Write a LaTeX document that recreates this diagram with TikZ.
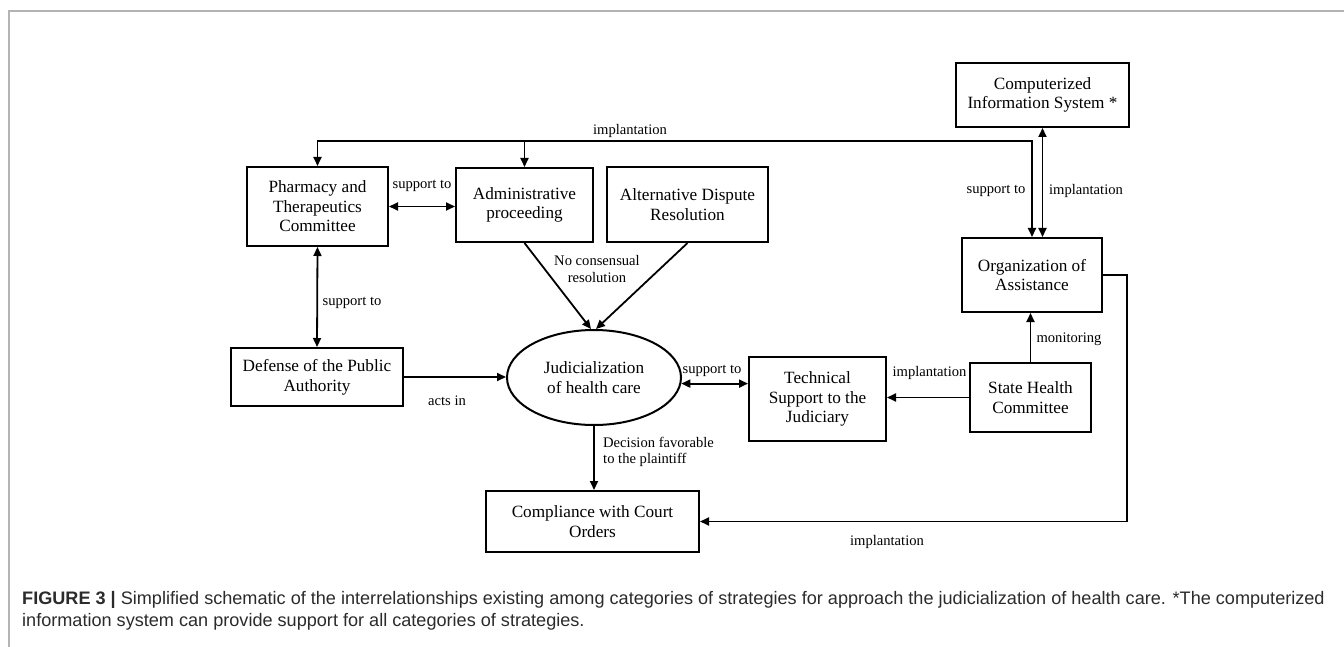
\documentclass[tikz,border=0pt]{standalone}
\usepackage{fontspec}
\setmainfont{Liberation Serif}
\newfontfamily\capfont{Liberation Sans}
\usetikzlibrary{arrows.meta,shapes.geometric}
\definecolor{framegray}{HTML}{B4B4B4}
\definecolor{captext}{HTML}{2B2B2B}
\begin{document}
\begin{tikzpicture}[x=1pt,y=-1pt,
  box/.style={draw, line width=2pt, inner sep=0pt, align=center, font=\fontsize{17.2}{19.6}\selectfont},
  lab/.style={inner sep=0pt, align=center, font=\fontsize{14.6}{16.5}\selectfont},
  arr/.style={line width=1.8pt, -{Triangle[length=9pt,width=8pt]}},
  darr/.style={line width=1.8pt, {Triangle[length=9pt,width=8pt]}-{Triangle[length=9pt,width=8pt]}},
  captxt/.style={inner sep=0pt, anchor=west, text=captext, font=\capfont\fontsize{18.1}{22}\selectfont}]
\useasboundingbox (0,0) rectangle (1344,647);
\draw[framegray, line width=1.4pt] (9,647) -- (9,11) -- (1344,11);

% nodes
\node[box, minimum width=141pt, minimum height=79pt] (pharm) at (317.5,206.5) {Pharmacy and\\Therapeutics\\Committee};
\node[box, minimum width=137pt, minimum height=74pt] (admin) at (524.5,205) {Administrative\\proceeding};
\node[box, minimum width=161pt, minimum height=75pt] (alt) at (687.5,204.5) {Alternative Dispute\\Resolution};
\node[box, minimum width=173pt, minimum height=64pt] (comp) at (1042.5,95) {Computerized\\Information System *};
\node[box, minimum width=140pt, minimum height=74pt] (org) at (1032,275) {Organization of\\Assistance};
\node[box, minimum width=172pt, minimum height=58pt] (def) at (317,377) {Defense of the Public\\Authority};
\node[box, ellipse, minimum width=174pt, minimum height=95pt] (jud) at (594,377.5) {Judicialization\\of health care};
\node[box, minimum width=137pt, minimum height=84pt] (tech) at (817.5,399) {Technical\\Support to the\\Judiciary};
\node[box, minimum width=121pt, minimum height=69pt] (state) at (1030.5,397.5) {State Health\\Committee};
\node[box, minimum width=213pt, minimum height=61pt] (cc) at (592.5,521.5) {Compliance with Court\\Orders};

\coordinate (topline) at (0,141);
\coordinate (rightline) at (1127,0);

% connectors
\draw[darr] (org.north) -- (org.north |- topline) -| (pharm.north);
\draw[arr] (admin.north |- topline) -- (admin.north);
\draw[darr] (comp.south) -- (comp.south |- org.north);
\draw[darr] (pharm.east) -- (pharm.east -| admin.west);
\draw[darr] (pharm.south) -- (def.north);
\draw[arr] (admin.south) -- ([xshift=-3pt]jud.north);
\draw[arr] (alt.south) -- ([xshift=2pt]jud.north);
\draw[arr] (def.east) -- (def.east -| jud.west);
\draw[darr] (jud.-4) -- (jud.-4 -| tech.west);
\draw[arr] (state.west) -- (state.west -| tech.east);
\draw[arr] (state.north) -- (state.north |- org.south);
\draw[arr] (jud.south) -- (jud.south |- cc.north);
\draw[arr] (org.east) -- (org.east -| rightline) |- (cc.east);

% labels
\node[lab] (l1) at (630,131) {implantation};
\node[lab] (l2) at (422,186) {support to};
\node[lab] (l3) at (996,191) {support to};
\node[lab] (l4) at (1086,191) {implantation};
\node[lab] (l5) at (352,303) {support to};
\node[lab] (l6) at (597,269) {No consensual\\resolution};
\node[lab] (l7) at (447,401) {acts in};
\node[lab] (l8) at (712,371) {support to};
\node[lab] (l9) at (929.5,373) {implantation};
\node[lab] (l10) at (1069,339) {monitoring};
\node[lab, align=left, anchor=west] (l11) at (603,452) {Decision favorable\\to the plaintiff};
\node[lab] (l12) at (887,542) {implantation};

% caption
\node[captxt] (cap1) at (22,600) {\textbf{FIGURE 3 |} Simplified schematic of the interrelationships existing among categories of strategies for approach the judicialization of health care. *The computerized};
\node[captxt] (cap2) at (22,622) {information system can provide support for all categories of strategies.};
\end{tikzpicture}
\end{document}
